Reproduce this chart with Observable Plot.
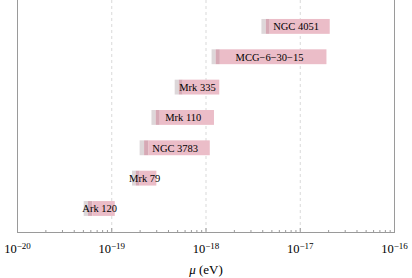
<!DOCTYPE html>
<html>
<head>
<meta charset="utf-8">
<script src="https://cdn.jsdelivr.net/npm/d3@7"></script>
<script src="https://cdn.jsdelivr.net/npm/@observablehq/plot@0.6"></script>
<style>
  html, body { margin: 0; padding: 0; background: #fff; }
  svg { display: block; }
  #chart svg, #chart svg text { font-family: "Liberation Serif", "DejaVu Serif", serif !important; }
  #chart g[aria-label="x-axis tick label"] text { font-size: 12.5px !important; }
  #chart g[aria-label="x-axis label"] text { font-size: 13px !important; }
  #chart g[aria-label="text"] text { font-size: 10.5px !important; }
</style>
</head>
<body>
<div id="chart"></div>
<script>
// Sources (bottom to top)
const names  = ["Ark 120", "Mrk 79", "NGC 3783", "Mrk 110", "Mrk 335", "MCG\u22126\u221230\u221215", "NGC 4051"];
// light-gray band start
const grayLo = [5.1e-20, 1.66e-19, 2.0e-19, 2.67e-19, 4.71e-19, 1.16e-18, 3.92e-18];
// pink band start (overlap begins)
const pinkLo = [5.67e-20, 1.82e-19, 2.23e-19, 2.96e-19, 5.2e-19, 1.28e-18, 4.36e-18];
// light-gray band end (overlap ends)
const grayHi = [6.31e-20, 2.0e-19, 2.49e-19, 3.27e-19, 5.73e-19, 1.42e-18, 4.8e-18];
// pink band end
const pinkHi = [1.09e-19, 3.01e-19, 1.11e-18, 1.23e-18, 1.4e-18, 1.92e-17, 2.08e-17];

const majorTicks = [1e-20, 1e-19, 1e-18, 1e-17, 1e-16];
const gridTicks = [1e-19, 1e-18, 1e-17];
const minorTicks = [];
for (let e = -20; e < -16; e++) for (let m = 2; m <= 9; m++) minorTicks.push(m * Math.pow(10, e));

const rows = names.map((name, i) => ({
  name, row: i + 1,
  gLo: grayLo[i], pLo: pinkLo[i], gHi: grayHi[i], pHi: pinkHi[i],
  mid: Math.sqrt(grayLo[i] * pinkHi[i])
}));

const half = 0.245;
const serif = "Liberation Serif";

const chart = Plot.plot({
  width: 412,
  height: 278,
  marginLeft: 17,
  marginRight: 18,
  marginTop: 0,
  marginBottom: 46,
  style: { fontFamily: serif, fontSize: "12px", color: "#111", background: "#fff" },
  x: { type: "log", domain: [1e-20, 1e-16] },
  y: { domain: [0.225, 7.87], axis: null },
  marks: [
    Plot.ruleX(gridTicks, { stroke: "#d9d9d9", strokeDasharray: "3,3", strokeWidth: 1 }),
    Plot.rect(rows, { x1: "gLo", x2: "pLo", y1: d => d.row - half, y2: d => d.row + half, fill: "#ddd7d9" }),
    Plot.rect(rows, { x1: "pLo", x2: "gHi", y1: d => d.row - half, y2: d => d.row + half, fill: "#d6a9b5" }),
    Plot.rect(rows, { x1: "gHi", x2: "pHi", y1: d => d.row - half, y2: d => d.row + half, fill: "#ebbdc8" }),
    Plot.text(rows, { x: "mid", y: "row", text: "name", fill: "#000", fontSize: 10.5 }),
    Plot.frame({ anchor: "left", stroke: "#9a9a9a" }),
    Plot.frame({ anchor: "right", stroke: "#9a9a9a" }),
    Plot.frame({ anchor: "bottom", stroke: "#9a9a9a" }),
    Plot.axisX(minorTicks, { tickSize: -2, text: null, stroke: "#9a9a9a", label: null }),
    Plot.axisX(majorTicks, { tickSize: -4, tickPadding: 16, stroke: "#9a9a9a",
      tickFormat: d => "10^" + Math.round(Math.log10(d)),
      fontSize: 12, fill: "#000",
      label: "\u03bc (eV)", labelAnchor: "center", labelOffset: 41, labelArrow: "none" })
  ]
});

document.getElementById("chart").appendChild(chart);

// Superscript exponents in tick labels
d3.select(chart).selectAll("g[aria-label='x-axis tick label'] text").each(function () {
  const t = this.textContent;
  const m = t.match(/^10\^(-?\d+)$/);
  if (!m) return;
  const exp = m[1].replace("-", "\u2212");
  const sel = d3.select(this);
  sel.text(null);
  sel.append("tspan").text("10");
  sel.append("tspan").attr("dy", "-0.45em").attr("font-size", "9px").text(exp);
});
// Italic mu in axis label
d3.select(chart).selectAll("g[aria-label='x-axis label'] text").each(function () {
  const sel = d3.select(this);
  sel.text(null);
  sel.append("tspan").attr("font-style", "italic").text("\u03bc");
  sel.append("tspan").attr("fill", "#000").text(" (eV)");
});
</script>
</body>
</html>
